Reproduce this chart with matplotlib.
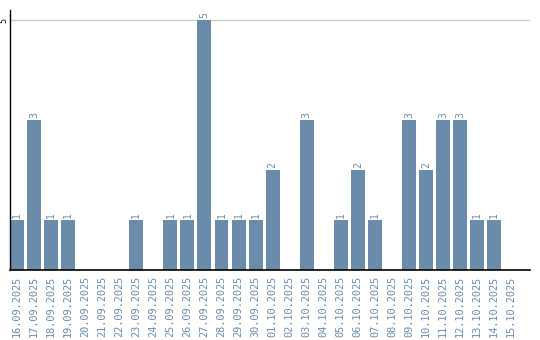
import matplotlib.pyplot as plt

dates = ['16.09.2025', '17.09.2025', '18.09.2025', '19.09.2025', '20.09.2025', '21.09.2025',
         '22.09.2025', '23.09.2025', '24.09.2025', '25.09.2025', '26.09.2025', '27.09.2025',
         '28.09.2025', '29.09.2025', '30.09.2025', '01.10.2025', '02.10.2025', '03.10.2025',
         '04.10.2025', '05.10.2025', '06.10.2025', '07.10.2025', '08.10.2025', '09.10.2025',
         '10.10.2025', '11.10.2025', '12.10.2025', '13.10.2025', '14.10.2025', '15.10.2025']
counts = [1, 3, 1, 1, 0, 0, 0, 1, 0, 1, 1, 5, 1, 1, 1, 2, 0, 3, 0, 1, 2, 1, 0, 3, 2, 3, 3, 1, 1, 0]

bar_color = '#6a8caa'
label_color = '#6a8caf'
mono = 'DejaVu Sans Mono'

fig = plt.figure(figsize=(5.4, 3.4), dpi=100)
ax = fig.add_axes([10 / 540, 70 / 340, 520 / 540, 260 / 340])

x = list(range(len(dates)))
bars = ax.bar(x, counts, width=0.82, color=bar_color, zorder=2)
for xi, c in zip(x, counts):
    if c > 0:
        ax.text(xi, c + 0.04, str(c), rotation=90, ha='center', va='bottom',
                fontsize=7, family=mono, color=label_color)

ax.set_xlim(-0.41, 30.1)
ax.set_ylim(0, 5.2)
ax.set_xticks(x)
ax.set_xticklabels(dates, rotation=90, fontsize=7.4, family=mono, color=label_color)
ax.set_yticks([5])
ax.set_yticklabels(['5'], rotation=90, fontsize=6, family=mono, va='center')
ax.tick_params(length=0, pad=4)
ax.tick_params(axis='y', pad=1)
ax.yaxis.grid(True, color='#cccccc', linewidth=1, zorder=1)
for s in ['top', 'right']:
    ax.spines[s].set_visible(False)
ax.spines['left'].set_color('black')
ax.spines['bottom'].set_color('black')
ax.spines['left'].set_linewidth(1)
ax.spines['bottom'].set_linewidth(1.2)

fig.savefig('out.png', dpi=100)
